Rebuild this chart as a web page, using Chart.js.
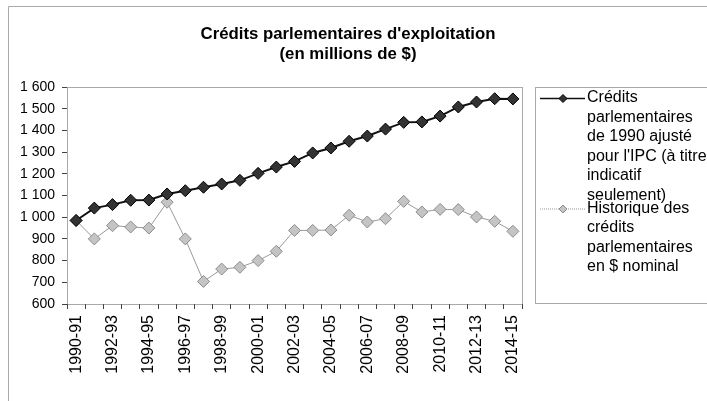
<!DOCTYPE html>
<html>
<head>
<meta charset="utf-8">
<script src="https://cdn.jsdelivr.net/npm/chart.js@4/dist/chart.umd.min.js"></script>
<style>
  html, body { margin: 0; padding: 0; background: #fff; }
  #wrap { width: 707px; height: 401px; }
</style>
</head>
<body>
<div id="wrap"><canvas id="chart" width="707" height="401"></canvas></div>
<script>
"use strict";

// years on the category axis
var years = [
    "1990-91", "1991-92", "1992-93", "1993-94", "1994-95", "1995-96", "1996-97",
    "1997-98", "1998-99", "1999-00", "2000-01", "2001-02", "2002-03", "2003-04",
    "2004-05", "2005-06", "2006-07", "2007-08", "2008-09", "2009-10", "2010-11",
    "2011-12", "2012-13", "2013-14", "2014-15"
];

// 1990 appropriations adjusted for CPI
var creditsAjustes = [
    985, 1042, 1058, 1078, 1079, 1107, 1122, 1138, 1153, 1170, 1202, 1231, 1257,
    1296, 1319, 1350, 1374, 1406, 1437, 1439, 1466, 1508, 1531, 1546, 1545
];

// historical appropriations, nominal dollars
var creditsNominaux = [
    985, 900, 961, 955, 950, 1069, 900, 704, 761, 769, 800, 843, 939,
    939, 941, 1009, 978, 993, 1073, 1024, 1036, 1035, 1001, 981, 935
];

var titleLines = ["Crédits parlementaires d'exploitation", "(en millions de $)"];
var legendLines = [
    ["Crédits", "parlementaires", "de 1990 ajusté", "pour l'IPC (à titre", "indicatif", "seulement)"],
    ["Historique des", "crédits", "parlementaires", "en $ nominal"]
];

var FONT = "'Liberation Sans', Arial, sans-serif";

function drawDiamond(ctx, x, y, r, fill, stroke) {
    ctx.beginPath();
    ctx.moveTo(x, y - r);
    ctx.lineTo(x + r, y);
    ctx.lineTo(x, y + r);
    ctx.lineTo(x - r, y);
    ctx.closePath();
    ctx.fillStyle = fill;
    ctx.fill();
    ctx.strokeStyle = stroke;
    ctx.lineWidth = 1;
    ctx.stroke();
}

// frame, title and the wrapped legend, drawn by hand like the Excel original
var decorations = {
    id: "decorations",
    beforeDraw: function (chart) {
        var ctx = chart.ctx;
        ctx.save();
        ctx.fillStyle = "#fff";
        ctx.fillRect(0, 0, chart.width, chart.height);
        ctx.strokeStyle = "#aaa";
        ctx.lineWidth = 1;
        ctx.beginPath();
        ctx.moveTo(8.5, chart.height);
        ctx.lineTo(8.5, 6.5);
        ctx.lineTo(chart.width, 6.5);
        ctx.stroke();
        ctx.restore();
    },
    afterDraw: function (chart) {
        var ctx = chart.ctx;
        var area = chart.chartArea;
        var sets = chart.data.datasets;
        ctx.save();

        // dotted plot area border
        ctx.strokeStyle = "#555";
        ctx.lineWidth = 1;
        ctx.setLineDash([1, 1]);
        ctx.strokeRect(Math.round(area.left) + 0.5, Math.round(area.top) + 0.5,
            Math.round(area.right - area.left), Math.round(area.bottom - area.top));
        ctx.setLineDash([]);

        // title
        ctx.fillStyle = "#000";
        ctx.font = "bold 16.8px " + FONT;
        ctx.textAlign = "center";
        ctx.textBaseline = "middle";
        titleLines.forEach(function (line, i) {
            ctx.fillText(line, 348, 34 + i * 20);
        });

        // legend box
        ctx.strokeStyle = "#aaa";
        ctx.strokeRect(535.5, 87.5, 200, 216);

        ctx.font = "16px " + FONT;
        ctx.textAlign = "left";
        var y = 98;
        legendLines.forEach(function (lines, i) {
            var ds = sets[i];
            ctx.strokeStyle = ds.borderColor;
            ctx.lineWidth = i === 0 ? 1.5 : 1;
            if (i === 1) {
                ctx.setLineDash([1, 1]);
            }
            ctx.beginPath();
            ctx.moveTo(540, y + 0.5);
            ctx.lineTo(585, y + 0.5);
            ctx.stroke();
            ctx.setLineDash([]);
            drawDiamond(ctx, 563, y + 0.5, 4, ds.pointBackgroundColor, ds.pointBorderColor);

            ctx.fillStyle = "#000";
            lines.forEach(function (line, j) {
                ctx.fillText(line, 587, y + j * 19.5);
            });
            y += (lines.length - 1) * 19.5 + 13;
        });
        ctx.restore();
    }
};

var config = {
    type: "line",
    data: {
        labels: years,
        datasets: [
            {
                label: "Crédits parlementaires de 1990 ajusté pour l'IPC (à titre indicatif seulement)",
                data: creditsAjustes,
                borderColor: "#111",
                borderWidth: 2,
                pointStyle: "rectRot",
                pointRadius: 6,
                pointBackgroundColor: "#333",
                pointBorderColor: "#000",
                pointBorderWidth: 1,
                tension: 0
            },
            {
                label: "Historique des crédits parlementaires en $ nominal",
                data: creditsNominaux,
                borderColor: "#9a9a9a",
                borderWidth: 1,
                pointStyle: "rectRot",
                pointRadius: 6,
                pointBackgroundColor: "#c4c4c4",
                pointBorderColor: "#8c8c8c",
                pointBorderWidth: 1,
                tension: 0
            }
        ]
    },
    plugins: [decorations],
    options: {
        responsive: false,
        animation: false,
        devicePixelRatio: 1,
        layout: {
            padding: { top: 87, right: 185, bottom: 0, left: 0 }
        },
        plugins: {
            legend: { display: false },
            title: { display: false },
            tooltip: { enabled: false }
        },
        scales: {
            x: {
                offset: true,
                grid: {
                    offset: true,
                    drawOnChartArea: false,
                    drawTicks: true,
                    tickLength: 5,
                    color: "#444"
                },
                border: { display: false },
                ticks: {
                    autoSkip: false,
                    minRotation: 90,
                    maxRotation: 90,
                    padding: 6,
                    color: "#000",
                    font: { family: FONT, size: 16 },
                    callback: function (value, index) {
                        return index % 2 === 0 ? years[index] : "";
                    }
                },
                afterFit: function (scale) {
                    scale.height = 97;
                }
            },
            y: {
                min: 600,
                max: 1600,
                grid: {
                    drawOnChartArea: false,
                    drawTicks: true,
                    tickLength: 5,
                    color: "#444"
                },
                border: { display: false },
                ticks: {
                    stepSize: 100,
                    padding: 7,
                    color: "#000",
                    font: { family: FONT, size: 14 },
                    callback: function (value) {
                        var s = String(value);
                        return s.length > 3 ? s.slice(0, s.length - 3) + " " + s.slice(-3) : s;
                    }
                },
                afterFit: function (scale) {
                    scale.width = 67;
                }
            }
        }
    }
};

new Chart(document.getElementById("chart"), config);
</script>
</body>
</html>
